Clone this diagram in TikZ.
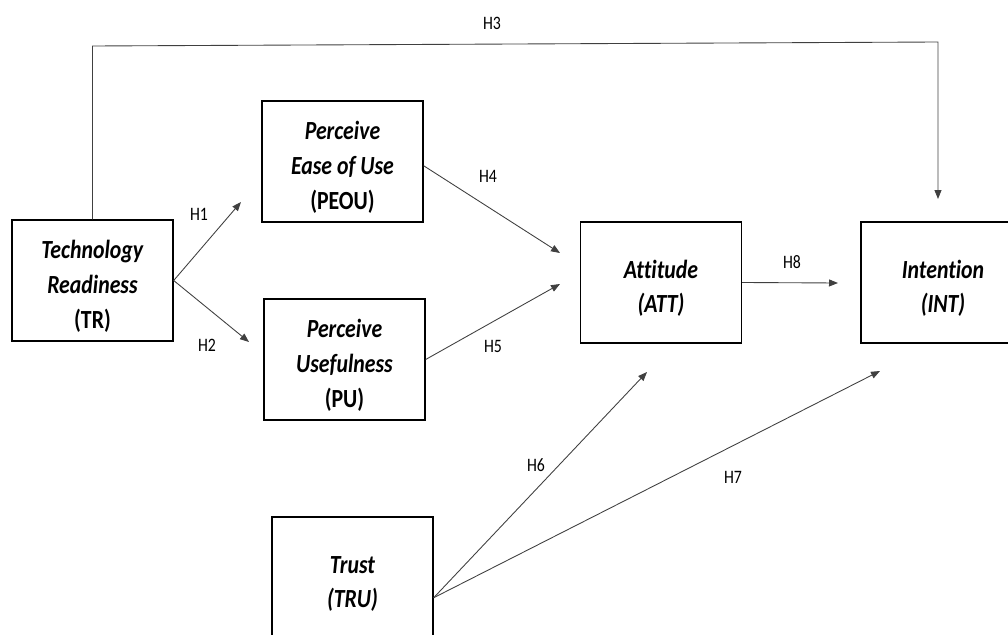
\documentclass[tikz,border=0pt]{standalone}
\usepackage{fontspec}
\setmainfont{Carlito}[Ligatures={NoCommon}]
\usetikzlibrary{arrows.meta}

\newcommand\tallbox[1]{\raisebox{0pt}[\dimexpr\height+6.8pt\relax]{\scalebox{1}[1.2]{\begin{tabular}{@{}c@{}}#1\end{tabular}}}}
\newcommand\tallword[1]{\scalebox{1}[1.2]{#1}}

\begin{document}
\begin{tikzpicture}[x=0.02cm, y=-0.02cm,
  factor/.style={draw, line width=0.8pt, minimum width=3.22cm, minimum height=2.42cm, inner sep=0pt, font=\bfseries\fontsize{12.4}{16.5}\selectfont},
  hlabel/.style={inner sep=0pt, font=\fontsize{9}{11}\selectfont},
  link/.style={draw=black!75, line width=0.5pt, -{Triangle[length=1.8mm,width=1.4mm]}}]

\useasboundingbox (0,0) rectangle (1008,635);
\clip (0,0) rectangle (1008,635);

\node[factor] (TR) at (92.5,280.5) {\tallbox{\textit{Technology}\\\textit{Readiness}\\(TR)}};
\node[factor] (PEOU) at (342.5,161.5) {\tallbox{\textit{Perceive}\\\textit{Ease of Use}\\(PEOU)}};
\node[factor] (PU) at (344.5,359.5) {\tallbox{\textit{Perceive}\\\textit{Usefulness}\\(PU)}};
\node[factor] (ATT) at (661,282.5) {\tallbox{\textit{Attitude}\\\textit{(ATT)}}};
\node[factor, minimum width=3.28cm] (INT) at (943,282.5) {\tallbox{\textit{Intention}\\\textit{(INT)}}};
\node[factor] (TRU) at (352.5,577.5) {\tallbox{\textit{Trust}\\\textit{(TRU)}}};

\foreach \n/\x/\y in {h1/241/202,h2/249/342,h3/938/199,h4/560/253,h5/560/284,h6/647/372,h7/880/371,h8/838/283}{
	\coordinate (\n) at (\x,\y);
}
\coordinate (h3a) at (92.5,46);
\coordinate (h3b) at (938,42);

\draw[link] (TR.north) -- (h3a) -- (h3b) -- (h3);
\foreach \u \v in {
TR.east/h1%
,TR.east/h2%
,PEOU.-3/h4%
,PU.east/h5%
,ATT.east/h8%
,TRU.-14/h6%
,TRU.-14/h7%
}{
	\draw[link] (\u) -- (\v);
}

\foreach \n/\x/\y in {H1/199/214,H2/207/345,H3/492/23,H4/488/176,H5/493/346,H6/536/465,H7/733/477,H8/792/262}{
	\node[hlabel] (\n) at (\x,\y) {\tallword{\n}};
}

\end{tikzpicture}
\end{document}
